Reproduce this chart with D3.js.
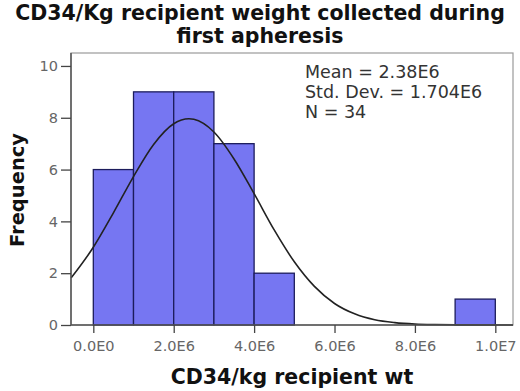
<!DOCTYPE html>
<html>
<head>
<meta charset="utf-8">
<script src="https://cdn.jsdelivr.net/npm/d3@7"></script>
<style>
  body { margin: 0; background: #fff; }
  svg { display: block; }
</style>
</head>
<body>
<svg id="drawing_region"></svg>
<script>
// histogram bins (units of 1E6) and counts
const binEdges = [0, 1, 2, 3, 4, 5, 6, 7, 8, 9, 10];
const counts = [6, 9, 9, 7, 2, 0, 0, 0, 0, 1];

// fitted normal curve (x in 1E6)
const curveX = [-0.55, 0, 0.5, 1, 1.5, 2, 2.38, 2.5, 3, 3.5, 4, 4.5, 5, 5.5, 6, 6.5, 7, 7.5, 8, 8.5, 9, 10.44];
const curveY = [1.82, 3.0, 4.33, 5.73, 6.97, 7.77, 7.96, 7.94, 7.45, 6.41, 5.07, 3.67, 2.44, 1.49, 0.83, 0.43, 0.2, 0.09, 0.035, 0.013, 0.004, 0];

const xTicks = [0, 2, 4, 6, 8, 10];
const xTickLabels = ["0.0E0", "2.0E6", "4.0E6", "6.0E6", "8.0E6", "1.0E7"];
const yTicks = [0, 2, 4, 6, 8, 10];

const titleLines = ["CD34/Kg recipient weight collected during", "first apheresis"];
const statLines = ["Mean = 2.38E6", "Std. Dev. = 1.704E6", "N = 34"];
const xLabel = "CD34/kg recipient wt";
const yLabel = "Frequency";

const config = {
    width: 520,
    height: 391,
    margin: {top: 53, right: 7, bottom: 66, left: 71}
};

const svg = d3.select('#drawing_region')
    .attr('width', config.width)
    .attr('height', config.height);

const inner_width = config.width - config.margin.left - config.margin.right;
const inner_height = config.height - config.margin.top - config.margin.bottom;

const chart = svg.append('g')
    .attr('transform', `translate(${config.margin.left}, ${config.margin.top})`);

const xscale = d3.scaleLinear()
    .domain([-0.555, 10.44])
    .range([0, inner_width]);

const yscale = d3.scaleLinear()
    .domain([0, 10.5])
    .range([inner_height, 0]);

const font = "'DejaVu Sans', Verdana, sans-serif";

// frame
chart.append('rect')
    .attr('x', 0).attr('y', 0)
    .attr('width', inner_width).attr('height', inner_height)
    .attr('fill', 'none')
    .attr('stroke', '#9a9a9a')
    .attr('stroke-width', 1.2);

// bars
const bins = counts.map((c, i) => ({x0: binEdges[i], x1: binEdges[i + 1], n: c}))
    .filter(d => d.n > 0);

chart.selectAll('rect.bar')
    .data(bins)
    .enter()
    .append('rect')
    .attr('class', 'bar')
    .attr('x', d => xscale(d.x0))
    .attr('y', d => yscale(d.n))
    .attr('width', d => xscale(d.x1) - xscale(d.x0))
    .attr('height', d => yscale(0) - yscale(d.n))
    .attr('fill', '#7676f2')
    .attr('stroke', '#1c1c5c')
    .attr('stroke-width', 1.3);

// normal curve
const curve = curveX.map((x, i) => ({x: x, y: curveY[i]}));
const line = d3.line()
    .x(d => xscale(d.x))
    .y(d => yscale(d.y))
    .curve(d3.curveMonotoneX);

chart.append('path')
    .attr('d', line(curve))
    .attr('fill', 'none')
    .attr('stroke', '#222')
    .attr('stroke-width', 1.6);

// axes
const xaxis = d3.axisBottom(xscale)
    .tickValues(xTicks)
    .tickFormat((d, i) => xTickLabels[i])
    .tickSize(8)
    .tickPadding(8)
    .tickSizeOuter(0);

const xaxis_group = chart.append('g')
    .attr('transform', `translate(0, ${inner_height})`)
    .call(xaxis);

const yaxis = d3.axisLeft(yscale)
    .tickValues(yTicks)
    .tickSize(10)
    .tickPadding(3)
    .tickSizeOuter(0);

const yaxis_group = chart.append('g')
    .call(yaxis);

[xaxis_group, yaxis_group].forEach(g => {
    g.select('.domain').attr('stroke', '#555').attr('stroke-width', 1.5);
    g.selectAll('.tick line').attr('stroke', '#444').attr('stroke-width', 1.3);
    g.selectAll('.tick text')
        .attr('fill', '#666')
        .style('font-family', font)
        .style('font-size', '14.5px');
});
xaxis_group.select('.domain').attr('d', `M0,0H${inner_width}`);
yaxis_group.select('.domain').attr('d', `M0,${inner_height}V0`);

// stats box text
svg.append('g')
    .selectAll('text')
    .data(statLines)
    .enter()
    .append('text')
    .attr('x', 305)
    .attr('y', (d, i) => 78 + i * 20)
    .attr('fill', '#333')
    .style('font-family', font)
    .style('font-size', '17.5px')
    .text(d => d);

// title
svg.append('g')
    .selectAll('text')
    .data(titleLines)
    .enter()
    .append('text')
    .attr('x', config.width / 2)
    .attr('y', (d, i) => 19.5 + i * 23.5)
    .attr('text-anchor', 'middle')
    .attr('fill', '#111')
    .style('font-family', font)
    .style('font-weight', 'bold')
    .style('font-size', '20.5px')
    .text(d => d);

// axis labels
svg.append('text')
    .attr('x', config.margin.left + inner_width / 2)
    .attr('y', 384)
    .attr('text-anchor', 'middle')
    .attr('fill', '#111')
    .style('font-family', font)
    .style('font-weight', 'bold')
    .style('font-size', '20.5px')
    .text(xLabel);

svg.append('text')
    .attr('transform', `translate(24, 190) rotate(-90)`)
    .attr('text-anchor', 'middle')
    .attr('fill', '#111')
    .style('font-family', font)
    .style('font-weight', 'bold')
    .style('font-size', '19.5px')
    .text(yLabel);
</script>
</body>
</html>
